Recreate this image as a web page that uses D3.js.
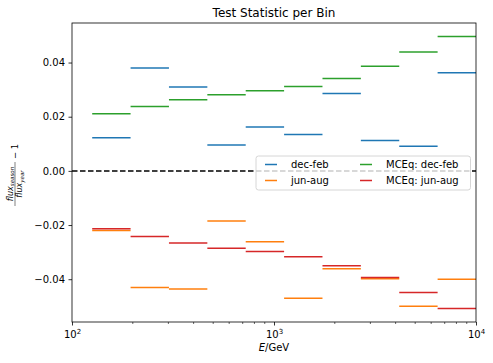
<!DOCTYPE html>
<html>
<head>
    <meta charset="utf-8">
    <title>Test Statistic per Bin</title>
    <style type="text/css">
        body { margin: 0; background: #fff; }
        svg text { font-family: "DejaVu Sans", sans-serif; fill: #000; }
    </style>
</head>
<body>
    <script src="https://d3js.org/d3.v7.min.js" type="text/javascript" charset="utf-8"></script>
    <script type="text/javascript">

        // bin edges: 10^2.1 ... 10^4 in 10 log bins
        var edgeExps = [2.1, 2.29, 2.48, 2.67, 2.86, 3.05, 3.24, 3.43, 3.62, 3.81, 4.0];
        var decFeb = [0.0122, 0.0380, 0.0310, 0.0096, 0.0162, 0.0134, 0.0286, 0.0112, 0.0091, 0.0362];
        var junAug = [-0.0220, -0.0431, -0.0436, -0.0185, -0.0262, -0.0470, -0.0361, -0.0398, -0.0500, -0.0400];
        var mceqDecFeb = [0.0211, 0.0238, 0.0263, 0.0281, 0.0296, 0.0312, 0.0341, 0.0386, 0.0439, 0.0496];
        var mceqJunAug = [-0.0214, -0.0242, -0.0266, -0.0286, -0.0298, -0.0317, -0.0350, -0.0394, -0.0449, -0.0508];
        var seriesNames = ['dec-feb', 'jun-aug', 'MCEq: dec-feb', 'MCEq: jun-aug'];
        var seriesColors = ['#1f77b4', '#ff7f0e', '#2ca02c', '#d62728'];
        var yTicks = [-0.04, -0.02, 0.00, 0.02, 0.04];

        var series = [decFeb, junAug, mceqDecFeb, mceqJunAug];
        var edges = edgeExps.map(function (e) { return Math.pow(10, e); });

        var W = 493, H = 363;
        // plot area (note: "top" is reserved on window)
        var pL = 72, pR = 476, pT = 23, pB = 322;

        var svg = d3.select('body').append('svg')
            .attr('width', W)
            .attr('height', H);

        var x = d3.scaleLog().domain([100, 10000]).range([pL, pR]);
        var y = d3.scaleLinear().domain([-0.0558, 0.0546]).range([pB, pT]);

        svg.append('defs').append('clipPath').attr('id', 'clip')
            .append('rect')
            .attr('x', pL).attr('y', pT)
            .attr('width', pR - pL).attr('height', pB - pT);

        var plot = svg.append('g').attr('clip-path', 'url(#clip)');

        // zero line
        plot.append('line')
            .attr('x1', pL).attr('x2', pR)
            .attr('y1', y(0)).attr('y2', y(0))
            .attr('stroke', '#000')
            .attr('stroke-width', 1.5)
            .attr('stroke-dasharray', '5.5,2.5');

        series.forEach(function (vals, s) {
            plot.append('g').selectAll('line')
                .data(vals)
                .enter().append('line')
                .attr('x1', function (d, i) { return x(edges[i]); })
                .attr('x2', function (d, i) { return x(edges[i + 1]); })
                .attr('y1', function (d) { return y(d); })
                .attr('y2', function (d) { return y(d); })
                .attr('stroke', seriesColors[s])
                .attr('stroke-width', 1.5);
        });

        // axes
        var xAxis = d3.axisBottom(x)
            .tickValues([100, 1000, 10000])
            .tickSize(3.5)
            .tickPadding(3)
            .tickFormat(function () { return ''; });
        var gx = svg.append('g').attr('transform', 'translate(0,' + pB + ')').call(xAxis);
        gx.select('.domain').remove();
        gx.selectAll('.tick line').attr('stroke', '#000').attr('stroke-width', 0.8);
        gx.selectAll('.tick text').remove();
        gx.selectAll('.tick').append('text')
            .attr('y', 16)
            .attr('text-anchor', 'middle')
            .style('font-size', '10px')
            .each(function (d) {
                var t = d3.select(this);
                t.append('tspan').text('10');
                t.append('tspan').attr('dy', -4).style('font-size', '7px').text(Math.round(Math.log10(d)));
            });

        var minor = [];
        [100, 1000].forEach(function (b) {
            for (var k = 2; k <= 9; k++) minor.push(b * k);
        });
        svg.append('g').selectAll('line')
            .data(minor).enter().append('line')
            .attr('x1', function (d) { return x(d); })
            .attr('x2', function (d) { return x(d); })
            .attr('y1', pB).attr('y2', pB + 2)
            .attr('stroke', '#000').attr('stroke-width', 0.6);

        var yAxis = d3.axisLeft(y)
            .tickValues(yTicks)
            .tickSize(3.5)
            .tickPadding(3.5)
            .tickFormat(function (d) { return d3.format('.2f')(d).replace('-', '\u2212'); });
        var gy = svg.append('g').attr('transform', 'translate(' + pL + ',0)').call(yAxis);
        gy.select('.domain').remove();
        gy.selectAll('.tick line').attr('stroke', '#000').attr('stroke-width', 0.8);
        gy.selectAll('.tick text')
            .style('font-size', '10px')
            .style('font-family', '"DejaVu Sans", sans-serif');

        // frame
        svg.append('rect')
            .attr('x', pL).attr('y', pT)
            .attr('width', pR - pL).attr('height', pB - pT)
            .attr('fill', 'none')
            .attr('stroke', '#000')
            .attr('stroke-width', 0.8);

        // title
        svg.append('text')
            .attr('x', (pL + pR) / 2).attr('y', 17)
            .attr('text-anchor', 'middle')
            .style('font-size', '12px')
            .text('Test Statistic per Bin');

        // x label
        var xl = svg.append('text')
            .attr('x', (pL + pR) / 2).attr('y', 351)
            .attr('text-anchor', 'middle')
            .style('font-size', '10px');
        xl.append('tspan').style('font-style', 'italic').text('E');
        xl.append('tspan').text('/GeV');

        // y label: flux_season / flux_year - 1
        var yl = svg.append('g').attr('transform', 'translate(15,184) rotate(-90)');
        var num = yl.append('text').attr('x', 0).attr('y', -2.5)
            .attr('text-anchor', 'middle').style('font-size', '8px').style('font-style', 'italic');
        num.append('tspan').text('flux');
        num.append('tspan').attr('dy', 1.5).style('font-size', '5.5px').text('season');
        yl.append('line')
            .attr('x1', -22).attr('x2', 22).attr('y1', 0).attr('y2', 0)
            .attr('stroke', '#000').attr('stroke-width', 0.5);
        var den = yl.append('text').attr('x', 0).attr('y', 7)
            .attr('text-anchor', 'middle').style('font-size', '8px').style('font-style', 'italic');
        den.append('tspan').text('flux');
        den.append('tspan').attr('dy', 1.5).style('font-size', '5.5px').text('year');
        yl.append('text').attr('x', 25).attr('y', 3)
            .style('font-size', '8.5px')
            .text('\u2212 1');

        // legend
        var lg = svg.append('g');
        lg.append('rect')
            .attr('x', 256).attr('y', 156)
            .attr('width', 214.5).attr('height', 34)
            .attr('rx', 2.5)
            .attr('fill', '#fff').attr('fill-opacity', 0.8)
            .attr('stroke', '#cccccc').attr('stroke-width', 0.8);
        var lx = [265, 360];
        var ly = [164.5, 180.5];
        seriesNames.forEach(function (name, i) {
            var col = Math.floor(i / 2), row = i % 2;
            lg.append('line')
                .attr('x1', lx[col]).attr('x2', lx[col] + 12)
                .attr('y1', ly[row]).attr('y2', ly[row])
                .attr('stroke', seriesColors[i]).attr('stroke-width', 1.5);
            lg.append('text')
                .attr('x', lx[col] + 26).attr('y', ly[row] + 3.5)
                .style('font-size', '10px')
                .text(name);
        });
    </script>
</body>
</html>
